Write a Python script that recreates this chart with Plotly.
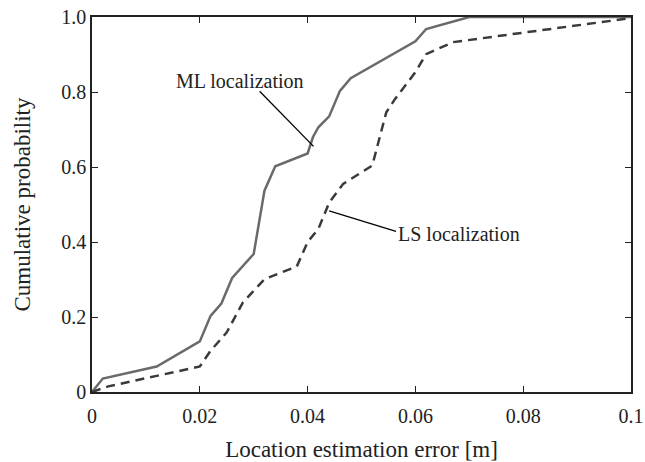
import plotly.graph_objects as go

ml_x = [0.0, 0.002, 0.012, 0.020, 0.022, 0.024, 0.026, 0.030, 0.032, 0.034, 0.040, 0.041, 0.042, 0.044, 0.046, 0.048, 0.060, 0.062, 0.070, 0.100]
ml_y = [0.0, 0.036, 0.068, 0.135, 0.203, 0.236, 0.304, 0.368, 0.537, 0.602, 0.636, 0.68, 0.706, 0.735, 0.803, 0.837, 0.935, 0.968, 1.0, 1.0]

ls_x = [0.0, 0.003, 0.012, 0.020, 0.022, 0.025, 0.028, 0.032, 0.038, 0.040, 0.042, 0.044, 0.0466, 0.052, 0.0546, 0.0562, 0.060, 0.062, 0.067, 0.100]
ls_y = [0.0, 0.015, 0.043, 0.068, 0.110, 0.159, 0.239, 0.301, 0.335, 0.400, 0.435, 0.505, 0.555, 0.604, 0.746, 0.781, 0.853, 0.901, 0.933, 0.997]

x_ticks = [0, 0.02, 0.04, 0.06, 0.08, 0.1]
x_tick_labels = ["0", "0.02", "0.04", "0.06", "0.08", "0.1"]
y_ticks = [0, 0.2, 0.4, 0.6, 0.8, 1.0]
y_tick_labels = ["0", "0.2", "0.4", "0.6", "0.8", "1.0"]

FONT = "Liberation Serif"

fig = go.Figure()
fig.add_trace(go.Scatter(x=ml_x, y=ml_y, mode="lines",
                         line=dict(color="#6a6a6a", width=2.5), name="ML"))
fig.add_trace(go.Scatter(x=ls_x, y=ls_y, mode="lines",
                         line=dict(color="#3a3a3a", width=2.5, dash="9px,6px"), name="LS"))

# leader lines
fig.add_shape(type="line", x0=0.0311, y0=0.802, x1=0.0411, y1=0.655,
              line=dict(color="black", width=1.3))
fig.add_shape(type="line", x0=0.0440, y0=0.483, x1=0.0564, y1=0.4285,
              line=dict(color="black", width=1.3))

fig.add_annotation(x=0.0275, y=0.83, text="ML localization", showarrow=False,
                   font=dict(family=FONT, size=20, color="#222"))
fig.add_annotation(x=0.0564, y=0.4285, text="LS localization", showarrow=False,
                   xanchor="left", xshift=0, yshift=-3,
                   font=dict(family=FONT, size=20, color="#222"))

axis_common = dict(showgrid=False, zeroline=False, showline=True, linecolor="#222",
                   linewidth=1.5, mirror="ticks", ticks="inside", ticklen=6,
                   tickcolor="#222", tickwidth=1.2, automargin=False,
                   tickfont=dict(family=FONT, size=20, color="#222"))

fig.update_xaxes(range=[0, 0.1], tickvals=x_ticks, ticktext=x_tick_labels,
                 ticklabelstandoff=5,
                 title=dict(text="Location estimation error [m]",
                            font=dict(family=FONT, size=23, color="#222"), standoff=16),
                 **axis_common)
fig.update_yaxes(range=[0, 1.0], tickvals=y_ticks, ticktext=y_tick_labels,
                 title=dict(text="Cumulative probability",
                            font=dict(family=FONT, size=23, color="#222"), standoff=24),
                 **axis_common)

fig.update_layout(width=645, height=462, showlegend=False,
                  font=dict(family=FONT, size=20, color="#222"),
                  plot_bgcolor="white", paper_bgcolor="white",
                  margin=dict(l=92, r=14, t=17, b=70))

fig.write_html("out.html")
